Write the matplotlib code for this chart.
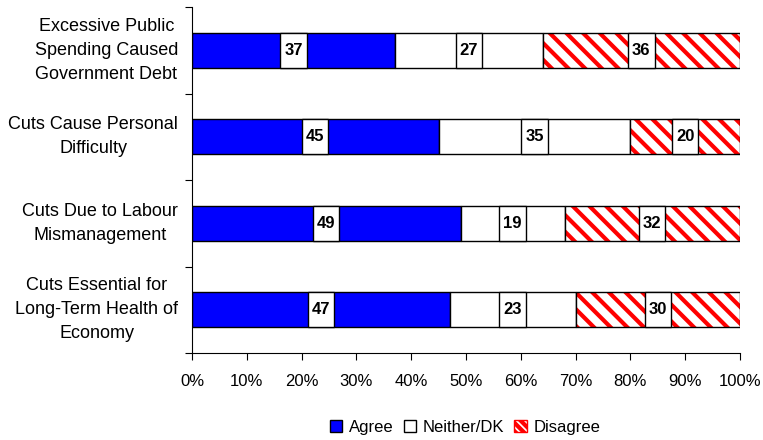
import matplotlib
matplotlib.use('Agg')
import matplotlib.pyplot as plt
from matplotlib.patches import Rectangle, Patch

plt.rcParams['font.family'] = ['Liberation Sans', 'DejaVu Sans']
plt.rcParams['hatch.linewidth'] = 3.0

categories = [
    'Excessive Public\nSpending Caused\nGovernment Debt',
    'Cuts Cause Personal\nDifficulty',
    'Cuts Due to Labour\nMismanagement',
    'Cuts Essential for\nLong-Term Health of\nEconomy',
]
agree = [37, 45, 49, 47]
neither = [27, 35, 19, 23]
disagree = [36, 20, 32, 30]
x_ticks = [0, 10, 20, 30, 40, 50, 60, 70, 80, 90, 100]
x_tick_labels = ['%d%%' % v for v in x_ticks]

fig = plt.figure(figsize=(7.63, 4.40), dpi=100)
ax = fig.add_axes([192 / 763, 1 - 353 / 440, 548 / 763, 346 / 440])

n = len(categories)
ypos = list(range(n))
h = 0.4

ax.barh(ypos, agree, height=h, color='#0000FF', edgecolor='black', linewidth=1)
left2 = agree
ax.barh(ypos, neither, left=left2, height=h, color='white', edgecolor='black', linewidth=1)
left3 = [a + b for a, b in zip(agree, neither)]
ax.barh(ypos, disagree, left=left3, height=h, color='white', edgecolor='red',
        hatch='\\\\', linewidth=0)
ax.barh(ypos, disagree, left=left3, height=h, color='none', edgecolor='black', linewidth=1)

# white value boxes in the middle of each segment
box_w = 4.8
for i in range(n):
    starts = [0, agree[i], agree[i] + neither[i]]
    vals = [agree[i], neither[i], disagree[i]]
    for s, v in zip(starts, vals):
        cx = s + v / 2
        ax.add_patch(Rectangle((cx - box_w / 2, i - h / 2), box_w, h,
                               facecolor='white', edgecolor='black', linewidth=1, zorder=3))
        ax.text(cx, i, str(v), ha='center', va='center', fontsize=12,
                fontweight='bold', zorder=4)

ax.set_xlim(0, 100)
ax.set_ylim(n - 0.5, -0.5)
ax.set_xticks(x_ticks)
ax.set_xticklabels(x_tick_labels, fontsize=12)

ax.set_yticks([i - 0.5 for i in range(n + 1)])
ax.set_yticklabels([])
ax.set_yticks(ypos, minor=True)
ax.set_yticklabels(categories, minor=True, fontsize=13, ha='right', va='center',
                   multialignment='center', linespacing=1.55)
ax.tick_params(axis='y', which='minor', length=0, pad=10)
ax.tick_params(axis='y', which='major', length=5, direction='out')
ax.tick_params(axis='x', length=5, direction='out', pad=10)

for side in ['top', 'right']:
    ax.spines[side].set_visible(False)

handles = [
    Patch(facecolor='#0000FF', edgecolor='black', label='Agree'),
    Patch(facecolor='white', edgecolor='black', label='Neither/DK'),
    Patch(facecolor='white', edgecolor='red', hatch='\\\\\\\\', label='Disagree'),
]
fig.legend(handles=handles, loc='center', bbox_to_anchor=(465 / 763, 1 - 427 / 440),
           ncol=3, frameon=False, fontsize=12, handlelength=0.75, handleheight=0.75,
           handletextpad=0.4, columnspacing=0.6)

fig.savefig('out.png', dpi=100)
